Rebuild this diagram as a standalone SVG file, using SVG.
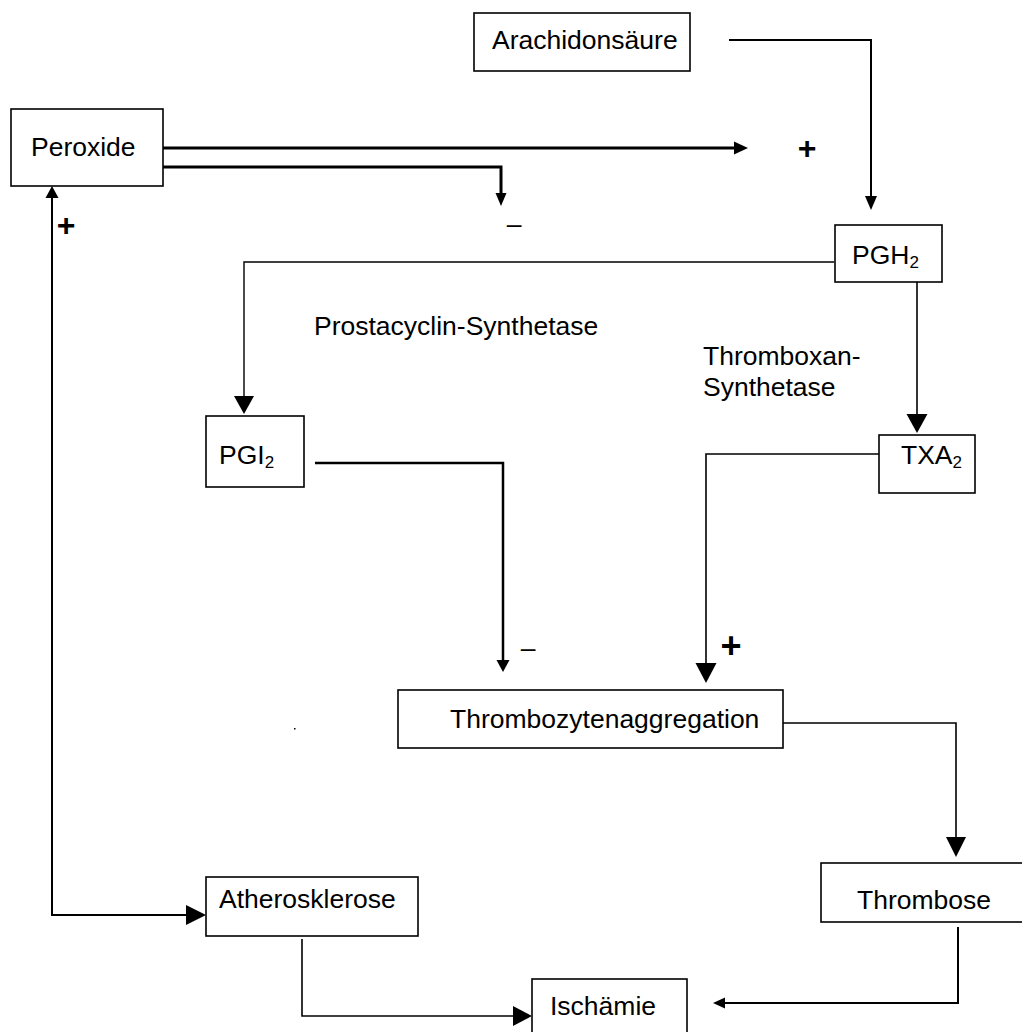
<svg xmlns="http://www.w3.org/2000/svg" width="1022" height="1032" viewBox="0 0 1022 1032">
<style>
.box{fill:#fff;stroke:#000;stroke-width:1.6}
.t{font-family:"Liberation Sans",Arial,sans-serif;font-size:26.5px;fill:#000}
.sub{font-size:17px}
.ln{fill:none;stroke:#000}
.ah{fill:#000}
.sg{font-family:"Liberation Sans",Arial,sans-serif;font-weight:bold;fill:#000;text-anchor:middle}
</style>
<rect width="1022" height="1032" fill="#fff"/>
<g id="connectors">
<path class="ln" stroke-width="2" d="M729,40 H871 V198"/>
<polygon class="ah" points="865,196 877,196 871,210"/>
<path class="ln" stroke-width="3" d="M163,148 H736"/>
<polygon class="ah" points="734,141.5 748,148 734,154.5"/>
<path class="ln" stroke-width="3" d="M163,167 H501 V194"/>
<polygon class="ah" points="495.5,193 506.5,193 501,206"/>
<path class="ln" stroke-width="1.4" d="M834,262 H244 V397"/>
<polygon class="ah" points="234,396 254,396 244,414"/>
<path class="ln" stroke-width="1.6" d="M917,282 V415"/>
<polygon class="ah" points="906.5,414 927.5,414 917,433"/>
<path class="ln" stroke-width="2.5" d="M315,463 H503 V661"/>
<polygon class="ah" points="496.5,660 509.5,660 503,672"/>
<path class="ln" stroke-width="1.6" d="M879,454 H706 V664"/>
<polygon class="ah" points="695.5,663 716.5,663 706,683"/>
<path class="ln" stroke-width="1.6" d="M783,723 H956 V838"/>
<polygon class="ah" points="946,837 966,837 956,857"/>
<path class="ln" stroke-width="2" d="M958,927 V1003 H724"/>
<polygon class="ah" points="725,997.5 725,1008.5 713,1003"/>
<path class="ln" stroke-width="1.6" d="M302,939 V1016 H514"/>
<polygon class="ah" points="513,1006 513,1026 532,1016"/>
<path class="ln" stroke-width="2" d="M52,197 V915 H187"/>
<polygon class="ah" points="45.5,198 58.5,198 52,186"/>
<polygon class="ah" points="186,905 186,925 206,915"/>
</g>
<g id="node-arachidonsaeure">
<rect class="box" x="474" y="13" width="216" height="58"/>
<text class="t" x="492" y="49" font-size="25">Arachidonsäure</text>
</g>
<g id="node-peroxide">
<rect class="box" x="11" y="109" width="152" height="77"/>
<text class="t" x="31" y="156">Peroxide</text>
</g>
<g id="node-pgh2">
<rect class="box" x="835" y="225" width="107" height="57"/>
<text class="t" x="852" y="264">PGH<tspan class="sub" dy="4">2</tspan></text>
</g>
<g id="node-pgi2">
<rect class="box" x="206" y="416" width="98" height="71"/>
<text class="t" x="219" y="464">PGI<tspan class="sub" dy="4">2</tspan></text>
</g>
<g id="node-txa2">
<rect class="box" x="879" y="435" width="96" height="58"/>
<text class="t" x="901" y="464">TXA<tspan class="sub" dy="4">2</tspan></text>
</g>
<g id="node-thrombozytenaggregation">
<rect class="box" x="398" y="690" width="385" height="58"/>
<text class="t" x="450" y="728" font-size="26.8">Thrombozytenaggregation</text>
</g>
<g id="node-atherosklerose">
<rect class="box" x="206" y="877" width="212" height="59"/>
<text class="t" x="219" y="908">Atherosklerose</text>
</g>
<g id="node-thrombose">
<rect class="box" x="821" y="863" width="210" height="59"/>
<text class="t" x="857" y="909">Thrombose</text>
</g>
<g id="node-ischaemie">
<rect class="box" x="532" y="979" width="155" height="60"/>
<text class="t" x="550" y="1015">Ischämie</text>
</g>
<g id="labels">
<text class="t" x="314" y="335">Prostacyclin-Synthetase</text>
<text class="t" x="703" y="365">Thromboxan-</text>
<text class="t" x="703" y="396">Synthetase</text>
<text class="sg" x="807" y="159" font-size="32">+</text>
<text class="sg" x="66" y="236" font-size="32">+</text>
<text class="sg" x="731" y="658" font-size="36">+</text>
<text class="t" x="514" y="233" text-anchor="middle">–</text>
<text class="t" x="528" y="657" text-anchor="middle" font-size="30">–</text>
<rect x="294" y="728" width="1.5" height="1.5" fill="#000"/>
</g>
</svg>
